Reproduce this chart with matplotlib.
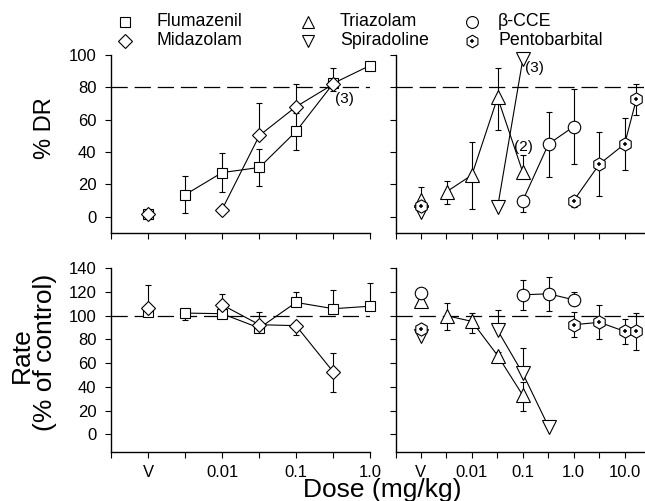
import numpy as np
import matplotlib
matplotlib.use('Agg')
import matplotlib.pyplot as plt
from matplotlib.lines import Line2D
from matplotlib.ticker import FixedLocator, NullLocator

plt.rcParams['font.family'] = ['Liberation Sans', 'DejaVu Sans']

# ── data (doses in mg/kg, 'V' = vehicle) ─────────────────────────────────────
FLU_DOSE    = ['V', 0.0032, 0.01, 0.032, 0.1, 0.32, 1.0]
FLU_DR      = [1.5, 13.6, 27.2, 30.4, 52.7, 82.5, 93.5]
FLU_DR_LO   = [0, 11.3, 12.2, 11.3, 11.5, 5, 0]
FLU_DR_HI   = [0, 11.7, 12.1, 11.4, 11.5, 9.5, 0]
FLU_RATE    = [103.5, 102.2, 101.7, 89.6, 111.2, 105.9, 108.0]
FLU_RATE_LO = [0, 5.6, 0, 0, 0, 0, 0]
FLU_RATE_HI = [0, 0, 0, 0, 9.2, 15.4, 20.0]

MID_DOSE    = ['V', 0.01, 0.032, 0.1, 0.32]
MID_DR      = [1.5, 4.3, 50.2, 68.0, 82.0]
MID_DR_LO   = [0, 0, 0, 0, 0]
MID_DR_HI   = [0, 0, 20.0, 14.0, 0]
MID_RATE    = [106.4, 109.2, 92.4, 91.6, 52.4]
MID_RATE_LO = [0, 0, 0, 7.6, 16.5]
MID_RATE_HI = [19.6, 9.0, 10.4, 0, 16.2]

TRI_DOSE    = ['V', 0.0032, 0.01, 0.032, 0.1]
TRI_DR      = [10.0, 15.4, 25.7, 73.7, 27.4]
TRI_DR_LO   = [0, 7.6, 21.0, 20.2, 0]
TRI_DR_HI   = [0, 6.4, 20.6, 18.5, 10.6]
TRI_RATE    = [112.6, 100.0, 95.2, 66.4, 32.8]
TRI_RATE_LO = [0, 12.4, 9.8, 3.0, 13.2]
TRI_RATE_HI = [0, 10.7, 7.0, 3.0, 11.2]

SPI_DOSE    = ['V', 0.032, 0.1, 0.32]
SPI_DR      = [2.7, 5.8, 97.3, np.nan]
SPI_DR_LO   = [0, 0, 0, 0]
SPI_DR_HI   = [0, 0, 0, 0]
SPI_RATE    = [83.2, 87.7, 51.3, 6.4]
SPI_RATE_LO = [0, 0, 0, 0]
SPI_RATE_HI = [0, 16.8, 21.6, 4.8]

CCE_DOSE    = ['V', 0.1, 0.32, 1.0]
CCE_DR      = [np.nan, 9.9, 44.9, 55.7]
CCE_DR_LO   = [0, 7.2, 20.2, 23.2]
CCE_DR_HI   = [0, 0, 20.0, 23.0]
CCE_RATE    = [119.0, 117.6, 118.5, 113.4]
CCE_RATE_LO = [0, 12.6, 14.9, 0]
CCE_RATE_HI = [0, 12.1, 14.5, 6.6]

PEN_DOSE    = ['V', 1.0, 3.2, 10.0, 17.0]
PEN_DR      = [6.8, 9.9, 32.5, 44.9, 72.6]
PEN_DR_LO   = [0, 4.0, 19.5, 16.0, 9.6]
PEN_DR_HI   = [11.2, 3.0, 20.0, 16.4, 9.7]
PEN_RATE    = [88.8, 92.4, 94.4, 86.8, 86.8]
PEN_RATE_LO = [0, 10.6, 14.0, 10.3, 15.4]
PEN_RATE_HI = [0, 10.4, 14.3, 10.7, 15.5]

LEFT_TICKS  = ['', 'V', '', '0.01', '', '0.1', '', '1.0']
RIGHT_TICKS = ['', 'V', '', '0.01', '', '0.1', '', '1.0', '', '10.0']

V_POS = 0.001   # where vehicle sits on the half-log dose axis

# ── marker styles ────────────────────────────────────────────────────────────
STYLE = {
    'Flumazenil':    dict(marker='s', ms=7.8),
    'Midazolam':     dict(marker='D', ms=7.0),
    'Triazolam':     dict(marker='^', ms=9.5),
    'Spiradoline':   dict(marker='v', ms=9.5),
    'β-CCE':         dict(marker='o', ms=9),
    'Pentobarbital': dict(marker='h', ms=9.5),
}


def draw(ax, name, dose, mean, lo, hi):
    x = np.array([V_POS if d == 'V' else d for d in dose], float)
    y = np.array(mean, float)
    ok = ~np.isnan(y)
    drug = ok & np.array([d != 'V' for d in dose])
    lo = np.array(lo, float)[ok]
    hi = np.array(hi, float)[ok]
    eb = ax.errorbar(x[ok], y[ok], yerr=[lo, hi], fmt='none', ecolor='k',
                     elinewidth=0.8, capsize=2.5, capthick=0.8, zorder=2)
    for art in eb.lines[1] + eb.lines[2]:
        art.set_clip_on(False)
    ax.plot(x[drug], y[drug], '-', color='k', lw=0.8, zorder=3, clip_on=False)
    st = STYLE[name]
    ax.plot(x[ok], y[ok], ls='none', marker=st['marker'], ms=st['ms'],
            mfc='white', mec='k', mew=0.8, zorder=4, clip_on=False)
    if name == 'Pentobarbital':
        ax.plot(x[ok], y[ok], ls='none', marker='+', ms=3.5, mew=1.1,
                color='k', zorder=5, clip_on=False)


def style_axes(ax, xmax, labels, ymin, ymax, yticks, show_ylabels):
    ax.set_xscale('log')
    ax.set_xlim(10 ** -3.5, xmax)
    ax.set_ylim(ymin, ymax)
    pos = [10 ** (-3.5 + k / 2) for k in range(len(labels))]
    ax.xaxis.set_major_locator(FixedLocator(pos))
    ax.xaxis.set_minor_locator(NullLocator())
    ax.set_xticklabels(labels)
    ax.set_yticks(yticks)
    if not show_ylabels:
        ax.set_yticklabels([])
    for s in ['top', 'right']:
        ax.spines[s].set_visible(False)
    for s in ['left', 'bottom']:
        ax.spines[s].set_linewidth(1.0)
    ax.tick_params(direction='out', length=4, width=0.8, labelsize=12)
    ax.tick_params(axis='y', pad=6.5)
    ax.tick_params(axis='x', pad=5)


fig = plt.figure(figsize=(6.45, 5.01), dpi=100)
ax_tl = fig.add_axes([0.1721, 0.5355, 0.4016, 0.3547])
ax_tr = fig.add_axes([0.6132, 0.5355, 0.3868, 0.3547])
ax_bl = fig.add_axes([0.1721, 0.0978, 0.4016, 0.3667])
ax_br = fig.add_axes([0.6132, 0.0978, 0.3868, 0.3667])

DASH = (0, (13, 5.5))

# ── top left: % DR, flumazenil and midazolam ─────────────────────────────────
ax_tl.axhline(80, color='k', lw=0.9, ls=DASH, zorder=1)
draw(ax_tl, 'Flumazenil', FLU_DOSE, FLU_DR, FLU_DR_LO, FLU_DR_HI)
draw(ax_tl, 'Midazolam', MID_DOSE, MID_DR, MID_DR_LO, MID_DR_HI)
ax_tl.annotate('(3)', (0.32, 82.5), xytext=(1.0, -11), textcoords='offset points',
               ha='left', va='center', fontsize=11)
style_axes(ax_tl, 10 ** 0, LEFT_TICKS, -10, 100, range(0, 101, 20), True)
ax_tl.set_xticklabels([])

# ── top right: % DR, other drugs ─────────────────────────────────────────────
ax_tr.axhline(80, color='k', lw=0.9, ls=DASH, zorder=1)
draw(ax_tr, 'Triazolam', TRI_DOSE, TRI_DR, TRI_DR_LO, TRI_DR_HI)
draw(ax_tr, 'Spiradoline', SPI_DOSE, SPI_DR, SPI_DR_LO, SPI_DR_HI)
draw(ax_tr, 'β-CCE', CCE_DOSE, CCE_DR, CCE_DR_LO, CCE_DR_HI)
draw(ax_tr, 'Pentobarbital', PEN_DOSE, PEN_DR, PEN_DR_LO, PEN_DR_HI)
ax_tr.annotate('(3)', (0.1, 97.3), xytext=(1.5, -6.5), textcoords='offset points',
               ha='left', va='center', fontsize=11)
ax_tr.annotate('(2)', (0.1, 27.4), xytext=(0.5, 18), textcoords='offset points',
               ha='center', va='center', fontsize=11)
style_axes(ax_tr, 10 ** 1.4, RIGHT_TICKS, -10, 100, range(0, 101, 20), False)
ax_tr.set_xticklabels([])

# ── bottom left: response rate ───────────────────────────────────────────────
ax_bl.axhline(100, color='k', lw=0.9, ls=DASH, zorder=1)
draw(ax_bl, 'Flumazenil', FLU_DOSE, FLU_RATE, FLU_RATE_LO, FLU_RATE_HI)
draw(ax_bl, 'Midazolam', MID_DOSE, MID_RATE, MID_RATE_LO, MID_RATE_HI)
style_axes(ax_bl, 10 ** 0, LEFT_TICKS, -15, 140, range(0, 141, 20), True)

# ── bottom right ─────────────────────────────────────────────────────────────
ax_br.axhline(100, color='k', lw=0.9, ls=DASH, zorder=1)
draw(ax_br, 'Triazolam', TRI_DOSE, TRI_RATE, TRI_RATE_LO, TRI_RATE_HI)
draw(ax_br, 'Spiradoline', SPI_DOSE, SPI_RATE, SPI_RATE_LO, SPI_RATE_HI)
draw(ax_br, 'β-CCE', CCE_DOSE, CCE_RATE, CCE_RATE_LO, CCE_RATE_HI)
draw(ax_br, 'Pentobarbital', PEN_DOSE, PEN_RATE, PEN_RATE_LO, PEN_RATE_HI)
style_axes(ax_br, 10 ** 1.4, RIGHT_TICKS, -15, 140, range(0, 141, 20), False)

# ── axis titles ──────────────────────────────────────────────────────────────
fig.text(0.0698, 0.7435, '% DR', rotation=90, ha='center', va='center', fontsize=17)
fig.text(0.034, 0.2914, 'Rate', rotation=90, ha='center', va='center', fontsize=19)
fig.text(0.069, 0.2974, '(% of control)', rotation=90, ha='center', va='center', fontsize=19)
fig.text(0.593, 0.021, 'Dose (mg/kg)', ha='center', va='center', fontsize=19)

# ── legend (3 columns x 2 rows) ──────────────────────────────────────────────
legend_cols = [(125, 156, ['Flumazenil', 'Midazolam']),
               (308, 340, ['Triazolam', 'Spiradoline']),
               (472, 498, ['β-CCE', 'Pentobarbital'])]
rows_y = [22, 40.5]
W, H = 645, 501
for mx, tx, names in legend_cols:
    for name, ry in zip(names, rows_y):
        st = STYLE[name]
        fy = 1 - ry / H
        fig.add_artist(Line2D([mx / W], [fy], transform=fig.transFigure, ls='none',
                              marker=st['marker'], ms=st['ms'] * 0.95,
                              mfc='white', mec='k', mew=0.8))
        if name == 'Pentobarbital':
            fig.add_artist(Line2D([mx / W], [fy], transform=fig.transFigure, ls='none',
                                  marker='+', ms=3.5, mew=1.1, color='k'))
        fig.text(tx / W, fy, name, ha='left', va='center', fontsize=12.8)

fig.savefig('out.png', dpi=100)
